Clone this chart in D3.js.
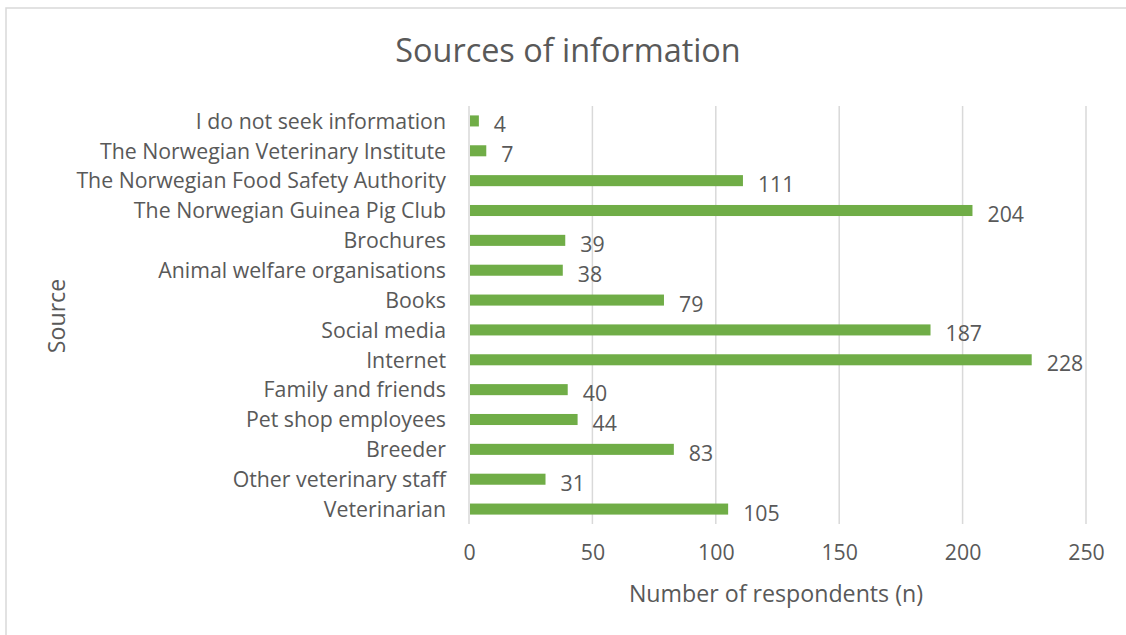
<!DOCTYPE html>
<html>
<head>
<meta charset="utf-8">
<script src="https://cdn.jsdelivr.net/npm/d3@7"></script>
<style>
  html, body { margin: 0; padding: 0; background: #fff; }
  svg { display: block; }
  text { font-family: "Open Sans", "Liberation Sans", sans-serif; fill: #595959; }
</style>
</head>
<body>
<svg id="chart" width="1126" height="635"></svg>
<script>
// Survey answers: where owners look for information, top row first
const categories = [
  "I do not seek information",
  "The Norwegian Veterinary Institute",
  "The Norwegian Food Safety Authority",
  "The Norwegian Guinea Pig Club",
  "Brochures",
  "Animal welfare organisations",
  "Books",
  "Social media",
  "Internet",
  "Family and friends",
  "Pet shop employees",
  "Breeder",
  "Other veterinary staff",
  "Veterinarian"
];
const respondents = [4, 7, 111, 204, 39, 38, 79, 187, 228, 40, 44, 83, 31, 105];
const xTicks = [0, 50, 100, 150, 200, 250];

const titleText = "Sources of information";
const xTitle = "Number of respondents (n)";
const yTitle = "Source";

const svg = d3.select("#chart");
const W = 1126, H = 635;
const labelSize = "21.3px";

// outer chart frame (only the top and left edges fall inside the view)
svg.append("rect")
  .attr("x", 6).attr("y", 8)
  .attr("width", W + 10).attr("height", H + 10)
  .attr("fill", "#fff")
  .attr("stroke", "#d9d9d9")
  .attr("stroke-width", 1.5);

const plot = { left: 469, right: 1086, top: 106, bottom: 524 };

const x = d3.scaleLinear().domain([0, 250]).range([plot.left, plot.right]);
const y = d3.scaleBand().domain(categories).range([plot.top, plot.bottom]).paddingInner(0.63).paddingOuter(0.315);

// vertical gridlines
svg.append("g")
  .selectAll("line")
  .data(xTicks)
  .join("line")
  .attr("x1", d => x(d)).attr("x2", d => x(d))
  .attr("y1", plot.top).attr("y2", plot.bottom)
  .attr("stroke", "#d9d9d9")
  .attr("stroke-width", 1.5);

// x tick labels via d3 axis
const xAxis = svg.append("g")
  .attr("transform", `translate(0,${plot.bottom})`)
  .call(d3.axisBottom(x).tickValues(xTicks).tickSize(0).tickPadding(21));
xAxis.select(".domain").remove();
xAxis.selectAll("text")
  .style("font-family", '"Open Sans", sans-serif')
  .style("font-size", labelSize)
  .attr("fill", "#595959");

// category labels via d3 axis
const yAxis = svg.append("g")
  .attr("transform", `translate(${plot.left},1)`)
  .call(d3.axisLeft(y).tickSize(0).tickPadding(23));
yAxis.select(".domain").remove();
yAxis.selectAll("text")
  .style("font-family", '"Open Sans", sans-serif')
  .style("font-size", labelSize)
  .attr("fill", "#595959");

// bars
svg.append("g")
  .selectAll("rect")
  .data(categories)
  .join("rect")
  .attr("x", x(0) + 1)
  .attr("y", d => y(d))
  .attr("width", (d, i) => x(respondents[i]) - x(0) - 1)
  .attr("height", y.bandwidth())
  .attr("fill", "#70ad47");

// value labels
svg.append("g")
  .selectAll("text")
  .data(categories)
  .join("text")
  .attr("x", (d, i) => x(respondents[i]) + 15)
  .attr("y", d => y(d) + y.bandwidth() / 2 + 4)
  .attr("dy", "0.35em")
  .style("font-size", labelSize)
  .text((d, i) => respondents[i]);

// chart title
svg.append("text")
  .attr("x", 568).attr("y", 51)
  .attr("text-anchor", "middle")
  .attr("dy", "0.35em")
  .style("font-size", "32.4px")
  .text(titleText);

// axis titles
svg.append("text")
  .attr("x", 776).attr("y", 594)
  .attr("text-anchor", "middle")
  .attr("dy", "0.35em")
  .style("font-size", "23.2px")
  .text(xTitle);

svg.append("text")
  .attr("transform", "translate(57,316) rotate(-90)")
  .attr("text-anchor", "middle")
  .attr("dy", "0.35em")
  .style("font-size", "23.2px")
  .text(yTitle);
</script>
</body>
</html>
